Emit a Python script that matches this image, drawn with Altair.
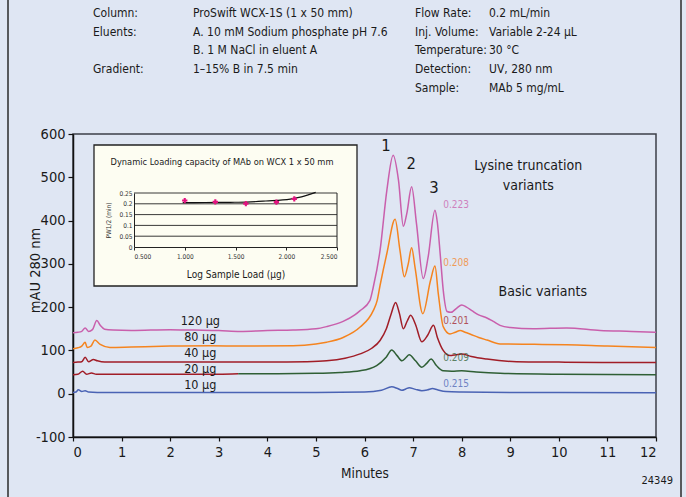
import altair as alt
import numpy as np
import pandas as pd

FONT = "Liberation Sans Narrow, DejaVu Sans Condensed, Liberation Sans, sans-serif"

# ---------------- chromatogram traces (minutes, mAU) ----------------
samples = ["120 µg", "80 µg", "40 µg", "20 µg", "10 µg"]
sample_load = [120, 80, 40, 20, 10]
trace_colors = ["#c95fac", "#f5841f", "#a11d27", "#2f5f35", "#4a63b4"]

t120 = [0.0, 0.1, 0.18, 0.25, 0.32, 0.4, 0.49, 0.56, 0.65, 0.83, 1.2, 2.0, 2.48, 3.0, 3.44, 4.0,
        4.53, 5.0, 5.22, 5.56, 5.8, 5.91, 6.11, 6.18, 6.32, 6.46, 6.59, 6.70, 6.80, 6.87, 6.97,
        7.07, 7.21, 7.31, 7.45, 7.50, 7.56, 7.62, 7.70, 7.78, 7.9, 8.0, 8.1, 8.21, 8.35, 8.52,
        8.65, 8.79, 9.0, 9.47, 10.16, 10.85, 11.5, 12.0]
v120 = [141, 142, 144, 152, 144, 148, 169, 158, 149, 147, 146, 148, 147, 146, 144, 146,
        147, 150, 155, 167, 182, 192, 215, 246, 331, 470, 551, 493, 387, 416, 478,
        393, 266, 316, 424, 395, 320, 240, 190, 188, 198, 205, 200, 192, 182, 175,
        167, 158, 153, 150, 152, 146, 144, 142]

t80 = [0.0, 0.1, 0.18, 0.25, 0.29, 0.37, 0.45, 0.56, 0.76, 1.2, 2.0, 2.82, 3.5, 4.53, 5.0, 5.22,
       5.56, 5.91, 6.18, 6.26, 6.32, 6.46, 6.63, 6.73, 6.82, 6.90, 6.97, 7.04, 7.2, 7.36, 7.45,
       7.52, 7.62, 7.76, 7.87, 7.97, 8.07, 8.17, 8.35, 8.52, 8.79, 9.5, 10.16, 11.0, 12.0]
v80 = [104, 106, 110, 119, 107, 110, 124, 114, 107, 108, 110, 111, 110, 111, 115, 119,
       130, 154, 192, 215, 250, 324, 403, 331, 270, 300, 337, 292, 185, 262, 295,
       230, 155, 138, 142, 146, 142, 138, 130, 124, 115, 114, 113, 110, 107]

t40 = [0.0, 0.1, 0.18, 0.25, 0.32, 0.42, 0.5, 0.65, 1.0, 2.0, 3.0, 4.0, 4.8, 5.22, 5.6, 5.91,
       6.15, 6.32, 6.45, 6.55, 6.64, 6.72, 6.80, 6.88, 6.95, 7.05, 7.18, 7.30, 7.42, 7.50,
       7.62, 7.76, 7.88, 8.0, 8.2, 8.52, 9.13, 10.0, 11.0, 12.0]
v40 = [72, 73, 74, 84, 74, 79, 76, 73, 73, 73, 73, 73, 74, 76, 82, 92,
       105, 123, 150, 185, 211, 185, 150, 168, 181, 160, 120, 135, 158, 130,
       100, 88, 90, 92, 86, 80, 74, 73, 72, 72]

t20 = [0.0, 0.1, 0.2, 0.28, 0.38, 0.48, 0.6, 1.0, 2.0, 3.0, 3.4, 4.0, 5.0, 5.5, 5.91, 6.25,
       6.45, 6.56, 6.67, 6.77, 6.85, 6.92, 7.05, 7.18, 7.28, 7.37, 7.48, 7.62, 7.8, 8.0, 8.3,
       8.79, 10.0, 12.0]
v20 = [44, 45, 52, 45, 48, 45, 45, 45, 45, 45, 46, 46, 47, 49, 53, 65,
       85, 101, 88, 76, 83, 90, 76, 61, 70, 80, 65, 53, 52, 53, 50,
       47, 45, 44]
t20_pen_switch = 3.4  # the 20 µg trace is drawn in the 40 µg ink up to here

t10 = [0.0, 0.06, 0.11, 0.18, 0.25, 0.32, 0.5, 1.0, 3.0, 5.0, 6.0, 6.35, 6.56, 6.68, 6.77, 6.85,
       6.92, 7.05, 7.18, 7.3, 7.4, 7.5, 7.68, 8.0, 9.0, 10.0, 12.0]
v10 = [3, 4, 9, 5, 7, 4, 3, 3, 3, 3, 4, 8, 16, 12, 8, 11,
       14, 10, 7, 9, 12, 9, 5, 4, 3, 3, 2]

# half-height peak width of peak 3 for each load (min)
pw_half = [0.223, 0.208, 0.201, 0.209, 0.215]

# inset trend line (log load, PW1/2)
trend_x = [0.98, 1.2, 1.45, 1.61, 1.8, 2.04, 2.15, 2.29]
trend_y = [0.205, 0.206, 0.207, 0.208, 0.213, 0.222, 0.232, 0.253]

# ---------------- build tables ----------------
rows = []
def add(sample, pen, part, ts, vs):
    for t, v in zip(ts, vs):
        rows.append({"sample": sample, "pen": pen, "part": part, "t": t, "mAU": v})

add("120 µg", "120 µg", "a", t120, v120)
add("80 µg", "80 µg", "b", t80, v80)
add("40 µg", "40 µg", "c", t40, v40)
t20_early = [t for t in t20 if t <= t20_pen_switch]
v20_early = v20[:len(t20_early)]
add("20 µg", "40 µg", "d0", t20_early, v20_early)
add("20 µg", "20 µg", "d1", t20[len(t20_early) - 1:], v20[len(t20_early) - 1:])
add("10 µg", "10 µg", "e", t10, v10)
trace_df = pd.DataFrame(rows)

xscale = alt.Scale(domain=[0, 12], nice=False, zero=False)
yscale = alt.Scale(domain=[-100, 600], nice=False, zero=False)
color_scale = alt.Scale(domain=samples, range=trace_colors)

traces = alt.Chart(trace_df).mark_line(interpolate="monotone", strokeWidth=1.5).encode(
    x=alt.X("t:Q", scale=xscale,
            axis=alt.Axis(values=list(range(13)), title="Minutes", orient="bottom",
                          tickSize=4, labelPadding=4, titlePadding=8, labelFontSize=14.5,
                          titleFontSize=13.5, domainWidth=1.5, tickWidth=1.2,
                          domainColor="#111", tickColor="#111", labelColor="#1a1a1a",
                          titleColor="#1a1a1a", titleFontWeight="normal", grid=False,
                          labelFont=FONT, titleFont=FONT)),
    y=alt.Y("mAU:Q", scale=yscale,
            axis=alt.Axis(values=list(range(-100, 601, 100)), title="mAU 280 nm", orient="left",
                          labelExpr="'' + datum.value",
                          tickSize=5, labelPadding=3, titleX=-38, titleY=136,
                          titleBaseline="middle", titleAngle=-90, labelFontSize=14.5,
                          titleFontSize=14.5, domainWidth=1.5, tickWidth=1.2,
                          domainColor="#111", tickColor="#111", labelColor="#1a1a1a",
                          titleColor="#1a1a1a", titleFontWeight="normal", grid=False,
                          labelFont=FONT, titleFont=FONT)),
    color=alt.Color("pen:N", scale=color_scale, legend=None),
    detail="part:N",
)

# sample-load labels above each baseline
load_label_t = [2.62, 2.62, 2.62, 2.62, 2.62]
load_label_y = [167, 130, 93, 57, 20]
load_labels = alt.Chart(pd.DataFrame({"t": load_label_t, "mAU": load_label_y, "txt": samples})).mark_text(
    fontSize=12.5, font=FONT, color="#1a1a1a", align="center", baseline="middle"
).encode(x="t:Q", y="mAU:Q", text="txt:N")

# peak-width labels next to peak 3
pw_label_y = [435, 303, 169, 83, 23]
pw_df = pd.DataFrame({"t": [7.62] * 5, "mAU": pw_label_y,
                      "txt": [f"{v:.3f}" for v in pw_half], "pen": samples})
pw_labels = alt.Chart(pw_df).mark_text(
    fontSize=10, font=FONT, align="left", baseline="middle", opacity=0.75
).encode(x="t:Q", y="mAU:Q", text="txt:N",
         color=alt.Color("pen:N", scale=color_scale, legend=None))

# peak numbers
peaks = alt.Chart(pd.DataFrame({"t": [6.44, 6.96, 7.43], "mAU": [572, 530, 475],
                                "txt": ["1", "2", "3"]})).mark_text(
    fontSize=16.5, font=FONT, color="#1a1a1a", baseline="middle"
).encode(x="t:Q", y="mAU:Q", text="txt:N")

# region notes
notes = alt.Chart(pd.DataFrame({"t": [9.37, 9.37, 9.67], "mAU": [527, 481, 236],
                                "txt": ["Lysine truncation", "variants", "Basic variants"]})).mark_text(
    fontSize=14, font=FONT, color="#1a1a1a", baseline="middle"
).encode(x="t:Q", y="mAU:Q", text="txt:N")

# ---------------- header & frame ----------------
hdr_labels_l = ["Column:", "Eluents:", "", "Gradient:"]
hdr_values_l = ["ProSwift WCX-1S (1 x 50 mm)", "A. 10 mM Sodium phosphate pH 7.6",
                "B. 1 M NaCl in eluent A", "1–15% B in 7.5 min"]
hdr_labels_r = ["Flow Rate:", "Inj. Volume:", "Temperature:", "Detection:", "Sample:"]
hdr_values_r = ["0.2 mL/min", "Variable 2-24 µL", "30 °C", "UV, 280 nm", "MAb 5 mg/mL"]

one = alt.Data(values=[{}])
ROW0, ROW_STEP = -121, 18.7

def header_column(lines, x):
    marks = []
    for i, line in enumerate(lines):
        if not line:
            continue
        marks.append(alt.Chart(one).mark_text(
            align="left", baseline="middle", fontSize=12, font=FONT, color="#1a1a1a"
        ).encode(x=alt.value(x), y=alt.value(ROW0 + i * ROW_STEP), text=alt.value(line)))
    return marks

header = (header_column(hdr_labels_l, 20) + header_column(hdr_values_l, 120)
          + header_column(hdr_labels_r, 342) + header_column(hdr_values_r, 416))

frame_l = alt.Chart(one).mark_rule(color="#2a2a2a", strokeWidth=1.5).encode(
    x=alt.value(-65), y=alt.value(-134), y2=alt.value(363))
frame_r = alt.Chart(one).mark_rule(color="#2a2a2a", strokeWidth=1.5).encode(
    x=alt.value(608), y=alt.value(-134), y2=alt.value(363))
fig_no = alt.Chart(one).mark_text(align="right", baseline="middle", fontSize=11,
                                  font=FONT, color="#1a1a1a").encode(
    x=alt.value(600), y=alt.value(347), text=alt.value("24349"))

main = alt.layer(traces, load_labels, pw_labels, peaks, notes, frame_l, frame_r, fig_no, *header)

# ---------------- inset: dynamic loading capacity ----------------
ix = alt.Scale(domain=[0.5, 2.5], range=[61, 264], nice=False, zero=False)
iy = alt.Scale(domain=[0, 0.25], range=[113, 59], nice=False, zero=False)

inset_box = alt.Chart(one).mark_rect(fill="#fdfdf2", stroke="#222", strokeWidth=1.3).encode(
    x=alt.value(21), x2=alt.value(284), y=alt.value(11), y2=alt.value(152))
inset_title = alt.Chart(one).mark_text(fontSize=9.2, font=FONT, color="#1a1a1a").encode(
    x=alt.value(149), y=alt.value(28), text=alt.value("Dynamic Loading capacity of MAb on WCX 1 x 50 mm"))

grid_vals = [0.05, 0.1, 0.15, 0.2, 0.25]
grid = alt.Chart(pd.DataFrame({"load": [0.5] * 5, "load_hi": [2.5] * 5, "pw": grid_vals})).mark_rule(
    color="#222", strokeWidth=0.9
).encode(
    x=alt.X("load:Q", scale=ix,
            axis=alt.Axis(orient="bottom", offset=-190, values=[0.5, 1.0, 1.5, 2.0, 2.5],
                          format=".3f", title="Log Sample Load (µg)", labelFontSize=6.5,
                          titleFontSize=10, titlePadding=10, labelPadding=3, tickSize=3,
                          domainColor="#222", tickColor="#222", labelColor="#333",
                          titleColor="#1a1a1a", titleFontWeight="normal", grid=False,
                          domainWidth=1, zindex=2, labelFont=FONT, titleFont=FONT)),
    x2="load_hi:Q",
    y=alt.Y("pw:Q", scale=iy,
            axis=alt.Axis(orient="left", offset=-61, values=[0, 0.05, 0.1, 0.15, 0.2, 0.25],
                          format="~g", title="PW1/2 (min)", labelFontSize=6.5, titleFontSize=6.5,
                          titlePadding=7, labelPadding=2, tickSize=0, domainColor="#222",
                          labelColor="#333", titleColor="#333", titleFontWeight="normal",
                          grid=False, domainWidth=1, zindex=2, labelFont=FONT, titleFont=FONT)),
)
right_edge = alt.Chart(pd.DataFrame({"load": [2.5], "pw": [0.0], "pw_hi": [0.25]})).mark_rule(
    color="#222", strokeWidth=1
).encode(x="load:Q", y="pw:Q", y2="pw_hi:Q")

trend = alt.Chart(pd.DataFrame({"load": trend_x, "pw": trend_y})).mark_line(
    color="#111", strokeWidth=1.2, interpolate="monotone"
).encode(x="load:Q", y="pw:Q")

pts = alt.Chart(pd.DataFrame({"load": np.log10(sample_load), "pw": pw_half})).mark_point(
    shape="cross", filled=True, size=28, color="#e3127f", opacity=1
).encode(x="load:Q", y="pw:Q")

inset = alt.layer(inset_box, inset_title, grid, right_edge, trend, pts)

chart = alt.layer(main, inset).resolve_scale(
    x="independent", y="independent", color="independent"
).properties(
    width=583, height=303,
    autosize=alt.AutoSizeParams(type="none"),
    padding={"left": 73, "top": 134, "right": 30, "bottom": 60},
    background="#dfe6f3",
).configure(font=FONT).configure_view(stroke="#3c3f48", strokeWidth=1.5)

chart.save("out.html", embed_options={"renderer": "svg", "actions": False})
